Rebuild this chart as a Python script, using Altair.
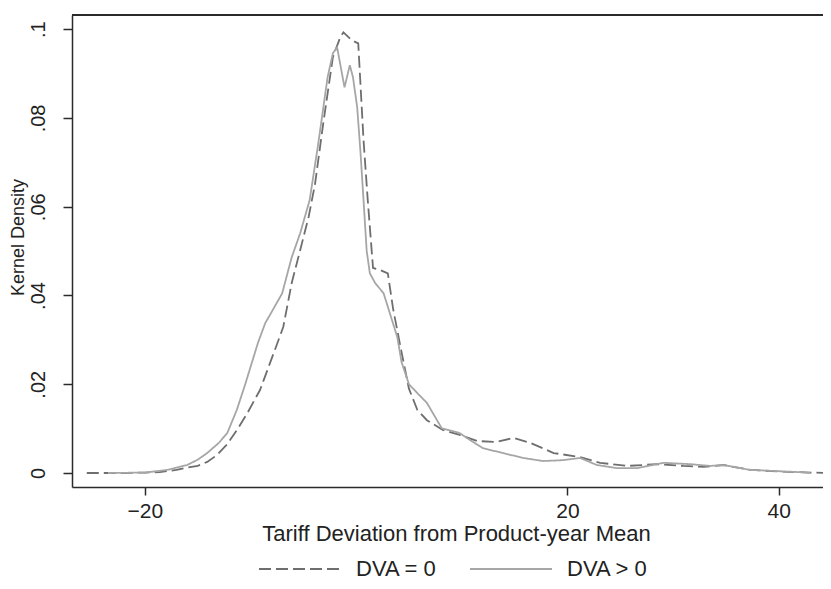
import altair as alt
import pandas as pd

# ---- data ----
series_names = ["DVA = 0", "DVA > 0"]

dva0_x = [-25.5, -22, -20, -18.6, -17, -16, -15, -14.1, -13.2, -12.2, -11.2, -10.3, -9.1, -7.7,
          -6.9, -6.1, -5.3, -4.5, -3.9, -3.1, -2.2, -1.5, -1.2, -0.4, 0.2, 0.7, 1.1, 1.6, 2.3,
          3.0, 3.5, 4.2, 5.0, 5.8, 6.7, 8.2, 9.8, 11.5, 13.3, 14.9, 16.5, 18.7, 21.2, 23.1,
          25.7, 28.5, 31.0, 32.9, 34.8, 37.3, 40.4, 44.6]
dva0_y = [0.0, 0.0, 0.0001, 0.0002, 0.0007, 0.0012, 0.0016, 0.0025, 0.004, 0.0065, 0.010,
          0.0135, 0.0187, 0.0277, 0.0329, 0.0428, 0.0502, 0.0577, 0.065, 0.079, 0.0937, 0.0982,
          0.0993, 0.0975, 0.0968, 0.075, 0.0615, 0.0462, 0.0457, 0.045, 0.037, 0.0284, 0.019,
          0.0142, 0.0119, 0.0097, 0.0086, 0.0072, 0.007, 0.0079, 0.0068, 0.0045, 0.0036,
          0.0023, 0.0016, 0.002, 0.0016, 0.0014, 0.0018, 0.0007, 0.0003, 0.0]

dvapos_x = [-23.5, -20, -17.9, -16, -15, -14.1, -13, -12.2, -11.3, -10.5, -9.3, -8.6, -7.9, -7.0,
            -6.1, -5.3, -4.4, -3.6, -2.7, -2.2, -1.8, -1.1, -0.6, -0.3, 0.1, 0.4, 0.7, 1.0, 1.3,
            1.8, 2.6, 3.9, 4.3, 5.0, 5.8, 6.7, 8.1, 9.8, 10.8, 12.0, 13.9, 15.8, 17.7, 19.6,
            21.2, 22.8, 24.7, 26.6, 29.1, 31.6, 33.5, 34.8, 37.3, 42.0, 43.0]
dvapos_y = [0.0, 0.0001, 0.0007, 0.0018, 0.003, 0.0045, 0.0068, 0.009, 0.0142, 0.020, 0.0293,
            0.0338, 0.0367, 0.0405, 0.0486, 0.054, 0.0615, 0.074, 0.0892, 0.0946, 0.0959, 0.0869,
            0.0919, 0.0892, 0.0824, 0.0727, 0.0615, 0.050, 0.045, 0.0428, 0.0405, 0.0306, 0.025,
            0.020, 0.018, 0.0158, 0.0101, 0.009, 0.0074, 0.0056, 0.0045, 0.0034, 0.0027, 0.0029,
            0.0034, 0.0018, 0.0011, 0.0011, 0.0023, 0.002, 0.0016, 0.0018, 0.0007, 0.0002, 0.0]

x_ticks = [-20, 20, 40]
y_ticks = [0, 0.02, 0.04, 0.06, 0.08, 0.1]

df = pd.concat([
    pd.DataFrame({"x": dva0_x, "y": dva0_y, "series": series_names[0], "order": range(len(dva0_x))}),
    pd.DataFrame({"x": dvapos_x, "y": dvapos_y, "series": series_names[1], "order": range(len(dvapos_x))}),
])

W, H = 751, 472
FONT = "Liberation Sans"
AX = "#2b2b2b"

lines = alt.Chart(df).mark_line(strokeWidth=1.8, clip=True).encode(
    x=alt.X("x:Q",
            scale=alt.Scale(domain=[-26.9, 44.2], nice=False, zero=False),
            axis=alt.Axis(values=x_ticks, title="Tariff Deviation from Product-year Mean",
                          grid=False, tickSize=8, labelPadding=22, labelBaseline="alphabetic",
                          labelFontSize=21, titleFontSize=22, titleBaseline="alphabetic",
                          titleFontWeight="normal",
                          titleX=384, titleY=53, titleAlign="center")),
    y=alt.Y("y:Q",
            scale=alt.Scale(domain=[-0.00315, 0.1032], nice=False, zero=False),
            axis=alt.Axis(values=y_ticks, title="Kernel Density", grid=False,
                          labelExpr="replace(toString(datum.value), '0.', '.')",
                          labelAngle=-90, labelAlign="center", labelBaseline="alphabetic",
                          tickSize=9, labelPadding=19, labelFontSize=20,
                          titleFontSize=18, titleAngle=-90, titleBaseline="alphabetic",
                          titleFontWeight="normal",
                          titleAlign="center", titleX=-49, titleY=222)),
    color=alt.Color("series:N",
                    scale=alt.Scale(domain=series_names, range=["#6e6e6e", "#a6a6a6"]),
                    legend=alt.Legend(orient="none", legendX=186, legendY=512,
                                      direction="horizontal", title=None,
                                      symbolType="stroke", symbolSize=6724,
                                      symbolStrokeWidth=2, labelFontSize=22,
                                      labelOffset=14, columnPadding=29, padding=0,
                                      labelColor="#222", labelFont=FONT)),
    strokeDash=alt.StrokeDash("series:N",
                              scale=alt.Scale(domain=series_names, range=[[12, 5], [1, 0]]),
                              legend=None),
    order="order:Q",
)

top_line = alt.Chart(df).mark_rule(color=AX, strokeWidth=1.5).encode(
    x=alt.value(0), x2=alt.value(W), y=alt.value(0)
)

chart = alt.layer(lines, top_line).properties(
    width=W, height=H,
    background="white",
    autosize=alt.AutoSizeParams(type="none"),
    padding={"left": 64, "top": 7, "right": 0, "bottom": 94},
).configure_view(stroke=None).configure_axis(
    domainColor=AX, domainWidth=1.5, tickColor=AX, tickWidth=1.5,
    labelColor="#222", titleColor="#222", labelFont=FONT, titleFont=FONT,
    titleFontWeight="normal",
)

chart.save("out.html", embed_options={"renderer": "svg", "actions": False})
